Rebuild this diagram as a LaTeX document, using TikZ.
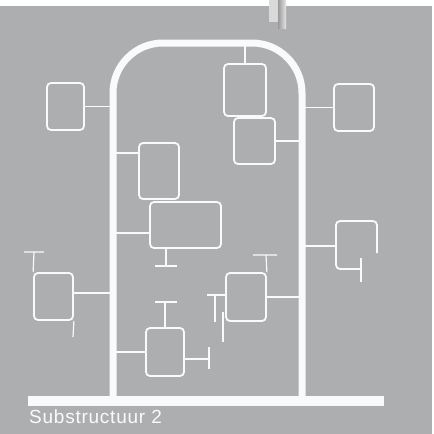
\documentclass[tikz,border=0pt]{standalone}
\usepackage{fontspec}
\setsansfont{Liberation Sans}
\usetikzlibrary{calc}
\definecolor{achtergrond}{HTML}{ADAEB0}
\definecolor{lijn}{HTML}{FAFAFA}

\begin{document}
\begin{tikzpicture}[x=1pt,y=-1pt,
	blok/.style={draw=lijn, line width=1.8pt, rounded corners=4pt, inner sep=0pt},
	openblok/.style={draw=lijn, line width=1.8pt, rounded corners=4pt},
	verbinding/.style={draw=lijn, line width=1.2pt},
	boog/.style={draw=lijn, line width=7pt}]
				\useasboundingbox (0,0) rectangle (434,434);
				\fill[achtergrond] (0,6) rectangle (432,434);% grijze achtergrond
				\shade[left color=black!40, right color=white!90!black] (278,0) rectangle (286,28);% schaduw
				\fill[white!85!black] (269,0) rectangle (278,22);% staafje boven
				
				\coordinate (L) at (113,0);% linker poot
				\coordinate (R) at (302,0);% rechter poot
				\coordinate (Boven) at (0,43);
				\draw[boog, rounded corners=50pt] (113,401) -- (113,43) -- (302,43) -- (302,401);% boog
				\draw[lijn, line width=10pt] (28,401) -- (384,401);% basis
				
				\node[blok, minimum width=37pt, minimum height=47pt] (b1) at (65.5,106.5) {};
				\node[blok, minimum width=42pt, minimum height=52pt] (b2) at (245,90) {};
				\node[blok, minimum width=41pt, minimum height=46pt] (b3) at (254.5,141) {};
				\node[blok, minimum width=40pt, minimum height=47pt] (b4) at (354,107.5) {};
				\node[blok, minimum width=40pt, minimum height=56pt] (b5) at (159,171) {};
				\node[blok, minimum width=71pt, minimum height=46pt] (b6) at (185.5,225) {};
				\node[blok, minimum width=40pt, minimum height=48pt] (b8) at (246,297) {};
				\node[blok, minimum width=39pt, minimum height=47pt] (b9) at (53.5,296.5) {};
				\node[blok, minimum width=38pt, minimum height=48pt] (b10) at (165,352) {};
				\coordinate (b7) at (336,246);
				\draw[openblok] (377,253) -- (377,221) -- (336,221) -- (336,269) -- (361,269);% open blok rechts
				
				\coordinate (a5) at (113,153);
				\coordinate (a6) at (113,233);
				\coordinate (a9) at (113,293);
				\draw[verbinding] (b1.east) -- (b1.east -| L);
				\draw[verbinding] (b2.north) -- (b2.north |- Boven);
				\draw[verbinding] (b3.east) -- (b3.east -| R);
				\draw[verbinding] (b4.west) -- (b4.west -| R);
				\draw[verbinding] (a5) -- (a5 -| b5.west);
				\draw[verbinding] (a6) -- (a6 -| b6.west);
				\draw[verbinding] (b7) -- (b7 -| R);
				\draw[verbinding] (b8.east) -- (b8.east -| R);
				\draw[verbinding] (a9) -- (a9 -| b9.east);
				\draw[verbinding] (b10.west) -- (b10.west -| L);
				
				% T-stukken
				\draw[verbinding] (166,248) -- (166,266) (155,266) -- (177,266);
				\draw[verbinding] (361,258) -- (361,282);
				\draw[verbinding] (b8.north east) -- (266,255) (253,255) -- (277,255);
				\draw[verbinding] (b8.west |- 0,295) -- (207,295) (215,295) -- (215,322);
				\draw[verbinding] (223,312) -- (223,342);
				\draw[verbinding] (b9.north west) -- (34,252) (24,252) -- (44,252);
				\draw[verbinding] (b9.south east) -- (73,337);
				\draw[verbinding] (b10.north) -- (165,302) (155,302) -- (177,302);
				\draw[verbinding] ($(b10.east)+(0,7)$) -- (209,359) (209,347) -- (209,369);
				
				\node[anchor=base west, inner sep=0pt, text=lijn, font=\sffamily\fontsize{19}{21}\selectfont\addfontfeatures{LetterSpace=4}] (titel) at (29,423) {Substructuur 2};
\end{tikzpicture}
\end{document}
